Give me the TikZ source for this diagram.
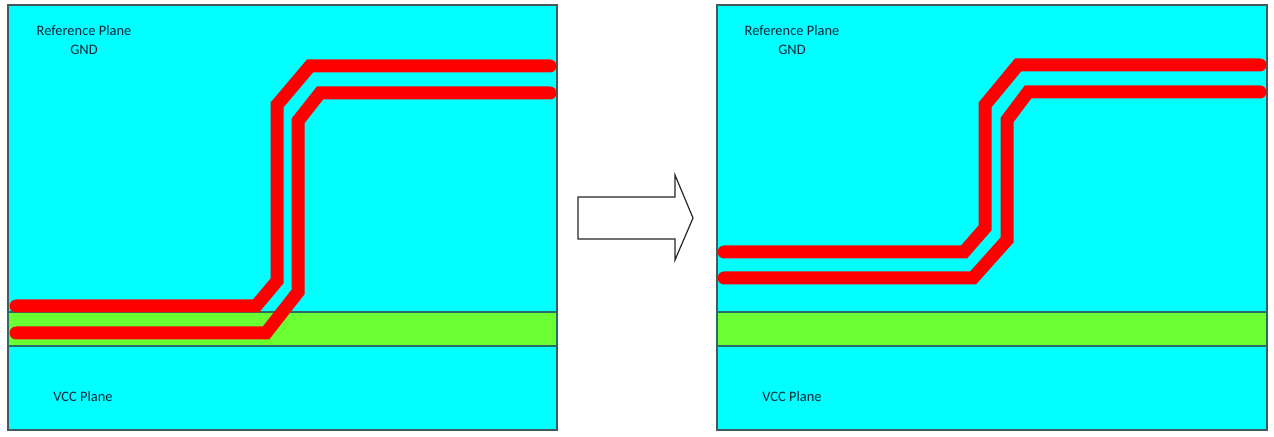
\documentclass[tikz,border=0pt]{standalone}
\usepackage{fontspec}
\setmainfont{Carlito}
\definecolor{planecyan}{RGB}{0,255,255}
\definecolor{bandgreen}{RGB}{106,255,51}
\definecolor{edgegrey}{RGB}{70,88,90}
\definecolor{bandedge}{RGB}{40,110,100}
\definecolor{tracered}{RGB}{255,0,0}
\definecolor{labeltext}{RGB}{10,40,60}
\begin{document}
\begin{tikzpicture}[x=1bp,y=-1bp,
  plane/.style={fill=planecyan,draw=edgegrey,line width=1.5bp},
  band/.style={fill=bandgreen,draw=bandedge,line width=1.2bp},
  trace/.style={draw=tracered,line width=13bp,line cap=round,line join=miter},
  lbl/.style={font=\fontsize{14.5}{19}\selectfont,text=labeltext,align=center,inner sep=0pt},
  bigarrow/.style={draw=black!85,line width=1.2bp,fill=white,line join=miter}]
\useasboundingbox (0,0) rectangle (1274,437);
% left panel
\draw[plane] (8,5) rectangle (557,430);
\draw[band] (8,312) rectangle (557,346);
\draw[trace] (16,306) -- (256,306) -- (277,281) -- (277,105) -- (310,66) -- (550,66);
\draw[trace] (16,333) -- (266,333) -- (298,292) -- (298,121) -- (320,93) -- (550,93);
\node[lbl] (refL) at (84,40) {Reference Plane\\GND};
\node[lbl] (vccL) at (83,397) {VCC Plane};
% arrow
\draw[bigarrow] (578,197) -- (675,197) -- (675,175) -- (693,218) -- (675,260) -- (675,239) -- (578,239) -- cycle;
% right panel
\draw[plane] (717,5) rectangle (1267,430);
\draw[band] (717,312) rectangle (1267,346);
\draw[trace] (724,252) -- (964,252) -- (985,228) -- (985,105) -- (1018,65) -- (1260,65);
\draw[trace] (724,278) -- (973,278) -- (1007,240) -- (1007,120) -- (1028,92) -- (1260,92);
\node[lbl] (refR) at (792,40) {Reference Plane\\GND};
\node[lbl] (vccR) at (792,397) {VCC Plane};
\end{tikzpicture}
\end{document}
